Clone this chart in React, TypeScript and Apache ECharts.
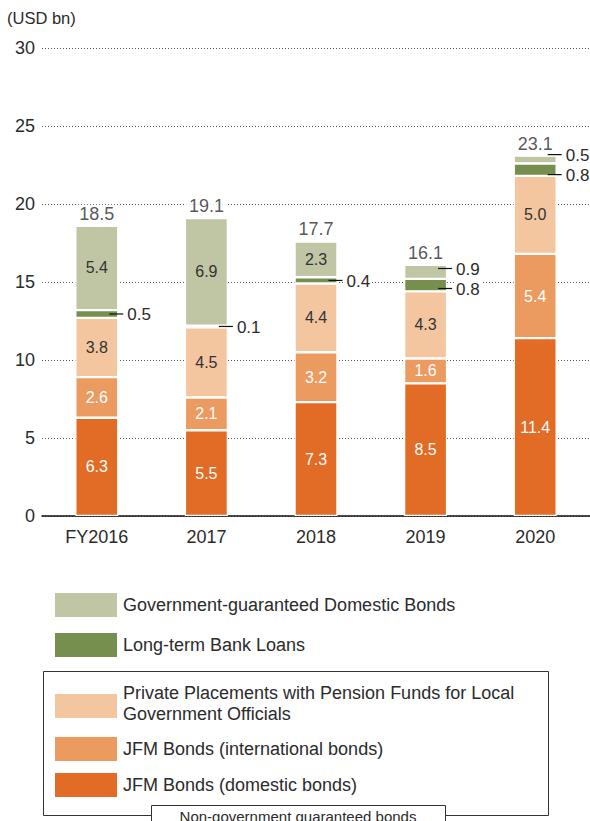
import React, { useEffect, useRef } from "react";
import * as echarts from "echarts";

const categories = ["FY2016", "2017", "2018", "2019", "2020"];
const jfmDomestic = [6.3, 5.5, 7.3, 8.5, 11.4];
const jfmInternational = [2.6, 2.1, 3.2, 1.6, 5.4];
const privatePlacements = [3.8, 4.5, 4.4, 4.3, 5.0];
const bankLoans = [0.5, 0.1, 0.4, 0.8, 0.8];
const govGuaranteed = [5.4, 6.9, 2.3, 0.9, 0.5];
const totals = [18.5, 19.1, 17.7, 16.1, 23.1];

const seriesNames = [
  "JFM Bonds (domestic bonds)",
  "JFM Bonds (international bonds)",
  "Private Placements with Pension Funds for Local Government Officials",
  "Long-term Bank Loans",
  "Government-guaranteed Domestic Bonds",
];
const seriesData = [jfmDomestic, jfmInternational, privatePlacements, bankLoans, govGuaranteed];
const colors = ["#E26B25", "#EB9A60", "#F4C6A0", "#778F4E", "#C0C6A3"];
const labelColors = ["#ffffff", "#ffffff", "#333333", "#333333", "#333333"];

const FONT = "'Liberation Sans', Arial, sans-serif";
const TXT = "#2b2b2b";
const BAR_W = 43;

export default function App() {
  const ref = useRef<HTMLDivElement>(null);
  useEffect(() => {
    if (!ref.current) return;
    const chart = echarts.init(ref.current, null, { renderer: "svg" });
    const stackTops = categories.map((_, i) =>
      seriesData.reduce((s, arr) => s + arr[i], 0)
    );
    const option: any = {
      animation: false,
      textStyle: { fontFamily: FONT },
      grid: { left: 42, right: 0, top: 48, bottom: 305, containLabel: false },
      xAxis: {
        type: "category",
        data: categories,
        axisLine: { lineStyle: { color: "#111", width: 1.5 } },
        axisTick: { show: false },
        axisLabel: { color: TXT, fontSize: 18, margin: 12, fontFamily: FONT },
      },
      yAxis: {
        type: "value",
        min: 0,
        max: 30,
        interval: 5,
        axisLine: { show: false },
        axisTick: { show: false },
        axisLabel: { color: TXT, fontSize: 18, margin: 7, fontFamily: FONT },
        splitLine: { lineStyle: { color: "#555", type: [1, 2], width: 1 } },
      },
      series: [
        ...seriesData.map((arr, k) => ({
          name: seriesNames[k],
          type: "bar",
          stack: "total",
          barWidth: BAR_W,
          itemStyle: { color: colors[k], borderColor: "#fff", borderWidth: 1.2 },
          label: {
            show: true,
            position: "inside",
            color: labelColors[k],
            fontSize: 16,
            fontFamily: FONT,
            formatter: (p: any) => Number(p.value).toFixed(1),
          },
          data: arr.map((v) => ({ value: v, label: { show: v >= 1 } })),
        })),
        {
          name: "Total",
          type: "scatter",
          symbolSize: 0,
          z: 10,
          label: {
            show: true,
            position: "top",
            distance: 3,
            color: TXT,
            fontSize: 18,
            fontFamily: FONT,
            backgroundColor: "#fff",
            padding: [0, 3],
            formatter: (p: any) => totals[p.dataIndex].toFixed(1),
          },
          data: stackTops.map((t, i) => [i, t]),
        },
      ],
    };
    chart.setOption(option);

    const g: any[] = [];
    // small segment callouts, grouped per category and spread apart if crowded
    categories.forEach((_, i) => {
      const callouts: { v: number; x: number; y: number }[] = [];
      seriesData.forEach((arr, k) => {
        const v = arr[i];
        if (v >= 1) return;
        let base = 0;
        for (let j = 0; j < k; j++) base += seriesData[j][i];
        const pt = chart.convertToPixel({ seriesIndex: 0 }, [i, base + v / 2]) as number[];
        callouts.push({ v, x: pt[0], y: pt[1] });
      });
      const MIN_GAP = 20;
      if (callouts.length === 2) {
        const [a, b] = callouts; // a lower (larger y), b upper
        const gap = a.y - b.y;
        if (gap < MIN_GAP) {
          const m = (a.y + b.y) / 2;
          a.y = m + MIN_GAP / 2;
          b.y = m - MIN_GAP / 2;
        }
      }
      callouts.forEach((c) => {
        const right = c.x + BAR_W / 2;
        g.push({
          type: "line",
          z: 100,
          shape: { x1: right - 9, y1: c.y, x2: right + 5, y2: c.y },
          style: { stroke: "#111", lineWidth: 1.2 },
        });
        g.push({
          type: "text",
          z: 100,
          x: right + 7,
          y: c.y + 1,
          style: {
            text: c.v.toFixed(1),
            fill: TXT,
            font: `17px ${FONT}`,
            verticalAlign: "middle",
            backgroundColor: "#fff",
            padding: [0, 2],
          },
        });
      });
    });

    // axis unit
    g.push({
      type: "text",
      z: 100,
      x: 7,
      y: 18,
      style: { text: "(USD bn)", fill: TXT, font: `16.5px ${FONT}`, verticalAlign: "middle" },
    });

    // legend
    const legendItems = [
      { k: 4, y: 593, lines: ["Government-guaranteed Domestic Bonds"] },
      { k: 3, y: 633, lines: ["Long-term Bank Loans"] },
      { k: 2, y: 694, lines: ["Private Placements with Pension Funds for Local", "Government Officials"] },
      { k: 1, y: 737, lines: ["JFM Bonds (international bonds)"] },
      { k: 0, y: 773, lines: ["JFM Bonds (domestic bonds)"] },
    ];
    g.push({
      type: "rect",
      z: 100,
      shape: { x: 43.5, y: 671.5, width: 505, height: 144 },
      style: { fill: "none", stroke: "#333", lineWidth: 1 },
    });
    legendItems.forEach((it) => {
      g.push({
        type: "rect",
        z: 101,
        shape: { x: 55, y: it.y, width: 62, height: 24 },
        style: { fill: colors[it.k] },
      });
      if (it.lines.length === 1) {
        g.push({
          type: "text",
          z: 101,
          x: 123,
          y: it.y + 12,
          style: { text: it.lines[0], fill: TXT, font: `18px ${FONT}`, verticalAlign: "middle" },
        });
      } else {
        it.lines.forEach((ln, li) => {
          g.push({
            type: "text",
            z: 101,
            x: 123,
            y: it.y - 1 + li * 21,
            style: { text: ln, fill: TXT, font: `18px ${FONT}`, verticalAlign: "middle" },
          });
        });
      }
    });
    g.push({
      type: "rect",
      z: 102,
      shape: { x: 151.5, y: 805.5, width: 294, height: 30 },
      style: { fill: "#fff", stroke: "#333", lineWidth: 1 },
    });
    g.push({
      type: "text",
      z: 103,
      x: 298,
      y: 816,
      style: {
        text: "Non-government guaranteed bonds",
        fill: TXT,
        font: `15px ${FONT}`,
        align: "center",
        verticalAlign: "middle",
      },
    });

    chart.setOption({ graphic: { elements: g } });
    return () => chart.dispose();
  }, []);

  return (
    <div
      ref={ref}
      style={{ position: "fixed", left: 0, top: 0, width: 590, height: 821, background: "#fff" }}
    />
  );
}
